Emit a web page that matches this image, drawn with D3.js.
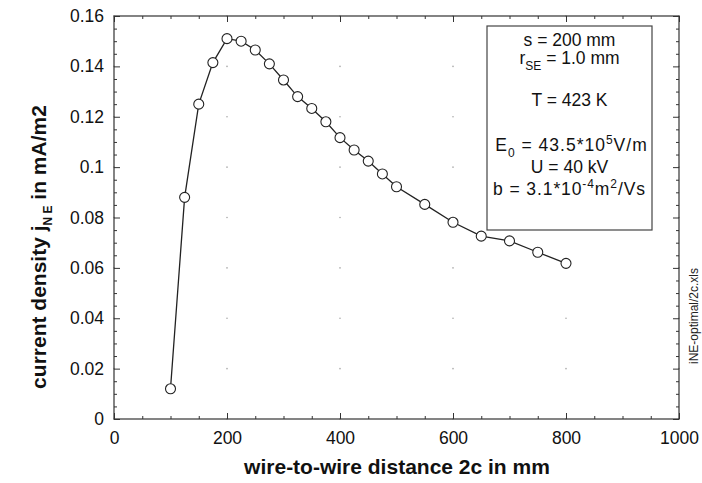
<!DOCTYPE html>
<html>
<head>
<meta charset="utf-8">
<script src="https://cdn.jsdelivr.net/npm/d3@7"></script>
<style>
  body { margin: 0; background: #fff; }
  svg { font-family: "Liberation Sans", Arial, sans-serif; }
</style>
</head>
<body>
<svg id="chart"></svg>
<script>
// wire-to-wire distance 2c (mm)
const distance = [100, 125, 150, 175, 200, 225, 250, 275, 300, 325, 350, 375, 400,
  425, 450, 475, 500, 550, 600, 650, 700, 750, 800];
// current density j_NE (mA/m2)
const density = [0.012, 0.088, 0.125, 0.1415, 0.151, 0.150, 0.1465, 0.141, 0.1346, 0.128,
  0.1233, 0.118, 0.1117, 0.1068, 0.1024, 0.0973, 0.0922, 0.0852, 0.0781, 0.0726,
  0.0707, 0.0662, 0.0618];
const xTicks = [0, 200, 400, 600, 800, 1000];
const yTicks = [0, 0.02, 0.04, 0.06, 0.08, 0.1, 0.12, 0.14, 0.16];

const w = 702, h = 483;
const m = { left: 114, right: 23, top: 16, bottom: 64 };

const svg = d3.select('#chart')
  .attr('width', w)
  .attr('height', h);

const x = d3.scaleLinear().domain([0, 1000]).range([m.left, w - m.right]);
const y = d3.scaleLinear().domain([0, 0.16]).range([h - m.bottom, m.top]);

// faint grid dots at major intersections
const dots = [];
xTicks.forEach(a => yTicks.forEach(b => dots.push([a, b])));
svg.append('g').selectAll('circle')
  .data(dots)
  .join('circle')
  .attr('cx', d => x(d[0]))
  .attr('cy', d => y(d[1]))
  .attr('r', 0.8)
  .attr('fill', '#aaa');

// frame
svg.append('rect')
  .attr('x', x(0)).attr('y', y(0.16))
  .attr('width', x(1000) - x(0)).attr('height', y(0) - y(0.16))
  .attr('fill', 'none').attr('stroke', '#333').attr('stroke-width', 1.2);

const xMinor = d3.range(0, 1001, 50).filter(v => v % 200 !== 0);
const yMinor = d3.range(0, 0.1601, 0.005).filter(v => Math.abs(v / 0.02 - Math.round(v / 0.02)) > 1e-6);

function ticks(axisGen, values, size, transform) {
  svg.append('g')
    .attr('transform', transform)
    .call(axisGen.tickValues(values).tickSize(size).tickFormat(''))
    .call(g => g.select('.domain').remove())
    .call(g => g.selectAll('line').attr('stroke', '#333'));
}

// inward ticks on all four sides
ticks(d3.axisTop(x), xTicks, 6, `translate(0,${y(0)})`);
ticks(d3.axisTop(x), xMinor, 3, `translate(0,${y(0)})`);
ticks(d3.axisBottom(x), xTicks, 6, `translate(0,${y(0.16)})`);
ticks(d3.axisBottom(x), xMinor, 3, `translate(0,${y(0.16)})`);
ticks(d3.axisRight(y), yTicks, 6, `translate(${x(0)},0)`);
ticks(d3.axisRight(y), yMinor, 3, `translate(${x(0)},0)`);
ticks(d3.axisLeft(y), yTicks, 6, `translate(${x(1000)},0)`);
ticks(d3.axisLeft(y), yMinor, 3, `translate(${x(1000)},0)`);

// tick labels
svg.append('g')
  .attr('transform', `translate(0,${y(0)})`)
  .call(d3.axisBottom(x).tickValues(xTicks).tickSize(0).tickPadding(13).tickFormat(d3.format('d')))
  .call(g => g.select('.domain').remove())
  .call(g => g.selectAll('text').attr('font-size', 17.5).attr('fill', '#111')
    .attr('font-family', '"Liberation Sans", Arial, sans-serif'));

svg.append('g')
  .attr('transform', `translate(${x(0)},0)`)
  .call(d3.axisLeft(y).tickValues(yTicks).tickSize(0).tickPadding(10).tickFormat(d => d3.format('~g')(d)))
  .call(g => g.select('.domain').remove())
  .call(g => g.selectAll('text').attr('font-size', 17.5).attr('fill', '#111')
    .attr('font-family', '"Liberation Sans", Arial, sans-serif'));

// axis titles
svg.append('text')
  .attr('x', 397).attr('y', 474)
  .attr('text-anchor', 'middle')
  .attr('font-size', 21).attr('font-weight', 'bold').attr('fill', '#111')
  .text('wire-to-wire distance 2c in mm');

const yt = svg.append('text')
  .attr('transform', 'translate(46,247) rotate(-90)')
  .attr('text-anchor', 'middle')
  .attr('font-size', 21).attr('font-weight', 'bold').attr('fill', '#111');
yt.append('tspan').text('current density j');
yt.append('tspan').attr('dy', 6).attr('font-size', 12).text('N E');
yt.append('tspan').attr('dy', -6).text(' in mA/m2');

svg.append('text')
  .attr('transform', 'translate(698,316) rotate(-90)')
  .attr('text-anchor', 'middle')
  .attr('font-size', 12).attr('fill', '#222')
  .text('iNE-optimal/2c.xls');

// curve
const line = d3.line()
  .x((d, i) => x(distance[i]))
  .y(d => y(d));

svg.append('path')
  .datum(density)
  .attr('d', line)
  .attr('fill', 'none')
  .attr('stroke', '#222')
  .attr('stroke-width', 1.3);

svg.append('g').selectAll('circle')
  .data(density)
  .join('circle')
  .attr('cx', (d, i) => x(distance[i]))
  .attr('cy', d => y(d))
  .attr('r', 5)
  .attr('fill', '#fff')
  .attr('stroke', '#222')
  .attr('stroke-width', 1.1);

// parameter box
svg.append('rect')
  .attr('x', 487).attr('y', 26).attr('width', 165).attr('height', 204)
  .attr('fill', '#fff').attr('stroke', '#444').attr('stroke-width', 1.2);

const cx = 569.5;
const box = svg.append('g').attr('font-size', 17.5).attr('fill', '#111').attr('text-anchor', 'middle');

box.append('text').attr('x', cx).attr('y', 46).text('s = 200 mm');

const r = box.append('text').attr('x', cx).attr('y', 64);
r.append('tspan').text('r');
r.append('tspan').attr('dy', 6).attr('font-size', 12).text('SE');
r.append('tspan').attr('dy', -6).text(' = 1.0 mm');

box.append('text').attr('x', cx).attr('y', 106).text('T = 423 K');

const e = box.append('text').attr('x', cx + 2).attr('y', 151).attr('letter-spacing', 1);
e.append('tspan').text('E');
e.append('tspan').attr('dy', 6).attr('font-size', 12).text('0');
e.append('tspan').attr('dy', -6).text(' = 43.5*10');
e.append('tspan').attr('dy', -7).attr('font-size', 12).text('5');
e.append('tspan').attr('dy', 7).text('V/m');

box.append('text').attr('x', cx).attr('y', 173).text('U = 40 kV');

const b = box.append('text').attr('x', cx).attr('y', 195).attr('letter-spacing', 0.9);
b.append('tspan').text('b = 3.1*10');
b.append('tspan').attr('dy', -7).attr('font-size', 12).text('-4');
b.append('tspan').attr('dy', 7).text('m');
b.append('tspan').attr('dy', -7).attr('font-size', 12).text('2');
b.append('tspan').attr('dy', 7).text('/Vs');
</script>
</body>
</html>
